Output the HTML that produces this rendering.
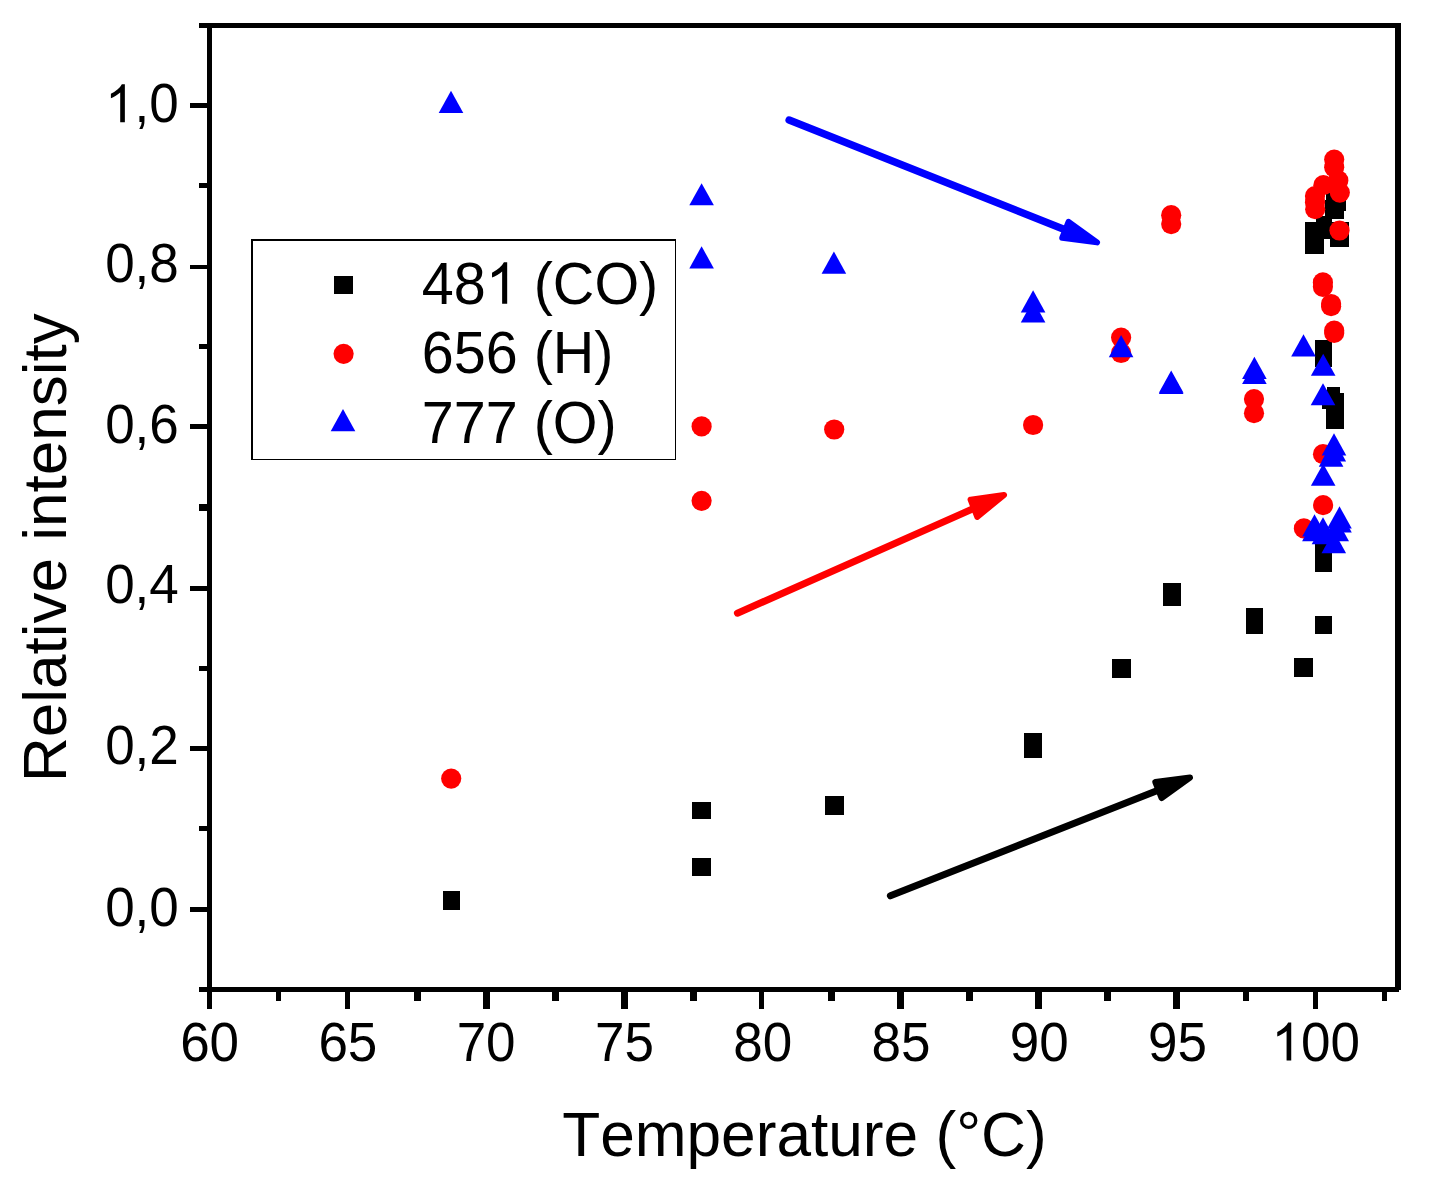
<!DOCTYPE html>
<html><head><meta charset="utf-8"><title>Relative intensity vs Temperature</title>
<style>html,body{margin:0;padding:0;background:#fff;}svg{display:block;}text{font-family:"Liberation Sans",sans-serif;fill:#000;font-kerning:none;font-variant-ligatures:none;}.h{fill:none;}</style>
</head><body>
<svg width="1430" height="1186" viewBox="0 0 1430 1186">
<rect x="0" y="0" width="1430" height="1186" fill="#fff"/>
<g fill="#000" shape-rendering="crispEdges">
<rect x="207" y="23" width="5" height="969"/>
<rect x="207" y="23" width="1194" height="5"/>
<rect x="1395" y="23" width="6" height="967"/>
<rect x="207" y="987" width="1192" height="5"/>
<rect x="199" y="23" width="9" height="5"/>
<rect x="190" y="103" width="18" height="5"/>
<rect x="199" y="183" width="9" height="5"/>
<rect x="190" y="265" width="18" height="4"/>
<rect x="199" y="344" width="9" height="5"/>
<rect x="190" y="424" width="18" height="5"/>
<rect x="199" y="504" width="9" height="7"/>
<rect x="190" y="586" width="18" height="5"/>
<rect x="199" y="666" width="9" height="5"/>
<rect x="190" y="746" width="18" height="5"/>
<rect x="199" y="826" width="9" height="5"/>
<rect x="190" y="907" width="18" height="5"/>
<rect x="199" y="987" width="9" height="5"/>
<rect x="207" y="991" width="5" height="18"/>
<rect x="276" y="991" width="5" height="10"/>
<rect x="345" y="991" width="5" height="18"/>
<rect x="414" y="991" width="7" height="10"/>
<rect x="483" y="991" width="7" height="18"/>
<rect x="552" y="991" width="7" height="10"/>
<rect x="621" y="991" width="7" height="18"/>
<rect x="690" y="991" width="7" height="10"/>
<rect x="759" y="991" width="5" height="18"/>
<rect x="828" y="991" width="7" height="10"/>
<rect x="897" y="991" width="7" height="18"/>
<rect x="966" y="991" width="7" height="10"/>
<rect x="1035" y="991" width="7" height="18"/>
<rect x="1104" y="991" width="7" height="10"/>
<rect x="1173" y="991" width="7" height="18"/>
<rect x="1243" y="991" width="6" height="10"/>
<rect x="1313" y="991" width="5" height="18"/>
<rect x="1382" y="991" width="5" height="10"/>
</g>
<text transform="translate(178.80,925.80) scale(1,1.04)" font-size="53" text-anchor="end" xml:space="preserve">0,0</text>
<text transform="translate(178.80,764.30) scale(1,1.04)" font-size="53" text-anchor="end" xml:space="preserve">0,2</text>
<text transform="translate(178.80,602.90) scale(1,1.04)" font-size="53" text-anchor="end" xml:space="preserve">0,4</text>
<text transform="translate(178.80,443.00) scale(1,1.04)" font-size="53" text-anchor="end" xml:space="preserve">0,6</text>
<text transform="translate(178.80,281.70) scale(1,1.04)" font-size="53" text-anchor="end" xml:space="preserve">0,8</text>
<path transform="translate(105.12,122.30) scale(0.02588,-0.02588)" d="M763 0H583V1147Q518 1085 412.5 1023T223 930V1104Q374 1175 487 1276T647 1472H763Z" fill="#000"/>
<text transform="translate(178.80,122.30) scale(1,1.04)" font-size="53" text-anchor="end" xml:space="preserve"><tspan class="h">1</tspan>,0</text>
<text transform="translate(209.60,1060.60) scale(1,1.04)" font-size="53" text-anchor="middle" xml:space="preserve">60</text>
<text transform="translate(347.86,1060.60) scale(1,1.04)" font-size="53" text-anchor="middle" xml:space="preserve">65</text>
<text transform="translate(486.12,1060.60) scale(1,1.04)" font-size="53" text-anchor="middle" xml:space="preserve">70</text>
<text transform="translate(624.39,1060.60) scale(1,1.04)" font-size="53" text-anchor="middle" xml:space="preserve">75</text>
<text transform="translate(762.65,1060.60) scale(1,1.04)" font-size="53" text-anchor="middle" xml:space="preserve">80</text>
<text transform="translate(900.91,1060.60) scale(1,1.04)" font-size="53" text-anchor="middle" xml:space="preserve">85</text>
<text transform="translate(1039.17,1060.60) scale(1,1.04)" font-size="53" text-anchor="middle" xml:space="preserve">90</text>
<text transform="translate(1177.44,1060.60) scale(1,1.04)" font-size="53" text-anchor="middle" xml:space="preserve">95</text>
<path transform="translate(1271.49,1060.60) scale(0.02588,-0.02588)" d="M763 0H583V1147Q518 1085 412.5 1023T223 930V1104Q374 1175 487 1276T647 1472H763Z" fill="#000"/>
<text transform="translate(1315.70,1060.60) scale(1,1.04)" font-size="53" text-anchor="middle" xml:space="preserve"><tspan class="h">1</tspan>00</text>
<text x="804.4" y="1155.8" font-size="62.2" text-anchor="middle">Temperature (°C)</text>
<text transform="translate(66.4,547.7) rotate(-90)" font-size="62" text-anchor="middle">Relative intensity</text>
<g fill="#000" shape-rendering="crispEdges">
<rect x="443" y="891" width="17" height="19"/>
<rect x="692" y="802" width="19" height="17"/>
<rect x="692" y="858" width="19" height="18"/>
<rect x="825" y="796" width="19" height="19"/>
<rect x="1024" y="733" width="18" height="25"/>
<rect x="1112" y="659" width="19" height="19"/>
<rect x="1163" y="583" width="18" height="23"/>
<rect x="1246" y="608" width="17" height="26"/>
<rect x="1294" y="658" width="19" height="19"/>
<rect x="1315" y="616" width="17" height="18"/>
<rect x="1315" y="544" width="17" height="28"/>
<rect x="1315" y="340" width="17" height="27"/>
<rect x="1327" y="387" width="13" height="13"/>
<rect x="1322" y="390" width="18" height="19"/>
<rect x="1326" y="393" width="18" height="36"/>
<rect x="1305" y="222" width="19" height="32"/>
<rect x="1330" y="222" width="19" height="25"/>
<rect x="1316" y="216" width="16" height="23"/>
<rect x="1326" y="192" width="20" height="19"/>
<rect x="1325" y="200" width="19" height="19"/>
</g>
<g fill="#f00">
<circle cx="451.20" cy="778.60" r="10.1"/>
<circle cx="701.60" cy="426.40" r="10.1"/>
<circle cx="701.60" cy="500.80" r="10.1"/>
<circle cx="834.20" cy="429.50" r="10.1"/>
<circle cx="1033.10" cy="425.00" r="10.1"/>
<circle cx="1121.10" cy="337.60" r="10.1"/>
<circle cx="1121.10" cy="353.00" r="10.1"/>
<circle cx="1171.20" cy="215.20" r="10.1"/>
<circle cx="1171.20" cy="224.10" r="10.1"/>
<circle cx="1254.00" cy="399.10" r="10.1"/>
<circle cx="1254.00" cy="413.20" r="10.1"/>
<circle cx="1334.20" cy="159.60" r="10.1"/>
<circle cx="1334.20" cy="167.30" r="10.1"/>
<circle cx="1338.30" cy="180.40" r="10.1"/>
<circle cx="1339.80" cy="192.60" r="10.1"/>
<circle cx="1323.40" cy="185.20" r="10.1"/>
<circle cx="1315.00" cy="196.10" r="10.1"/>
<circle cx="1315.00" cy="202.50" r="10.1"/>
<circle cx="1315.20" cy="209.20" r="10.1"/>
<circle cx="1339.50" cy="230.50" r="10.1"/>
<circle cx="1322.90" cy="282.40" r="10.1"/>
<circle cx="1322.90" cy="286.80" r="10.1"/>
<circle cx="1331.10" cy="304.00" r="10.1"/>
<circle cx="1331.10" cy="306.20" r="10.1"/>
<circle cx="1334.20" cy="330.70" r="10.1"/>
<circle cx="1334.20" cy="332.90" r="10.1"/>
<circle cx="1323.00" cy="454.20" r="10.1"/>
<circle cx="1323.10" cy="505.10" r="10.1"/>
<circle cx="1303.90" cy="528.40" r="10.1"/>
</g>
<g fill="#00f">
<path d="M438.70 113.05L463.30 113.05L451.00 90.85Z"/>
<path d="M689.30 205.35L713.90 205.35L701.60 183.15Z"/>
<path d="M689.30 268.45L713.90 268.45L701.60 246.25Z"/>
<path d="M821.60 273.65L846.20 273.65L833.90 251.45Z"/>
<path d="M1020.80 312.45L1045.40 312.45L1033.10 290.25Z"/>
<path d="M1020.80 322.55L1045.40 322.55L1033.10 300.35Z"/>
<path d="M1108.80 357.25L1133.40 357.25L1121.10 335.05Z"/>
<path d="M1158.90 392.65L1183.50 392.65L1171.20 370.45Z"/>
<path d="M1158.90 394.05L1183.50 394.05L1171.20 371.85Z"/>
<path d="M1242.10 378.95L1266.70 378.95L1254.40 356.75Z"/>
<path d="M1242.10 384.05L1266.70 384.05L1254.40 361.85Z"/>
<path d="M1291.20 356.55L1315.80 356.55L1303.50 334.35Z"/>
<path d="M1310.90 375.85L1335.50 375.85L1323.20 353.65Z"/>
<path d="M1310.70 405.35L1335.30 405.35L1323.00 383.15Z"/>
<path d="M1321.70 455.45L1346.30 455.45L1334.00 433.25Z"/>
<path d="M1321.50 461.45L1346.10 461.45L1333.80 439.25Z"/>
<path d="M1318.80 466.75L1343.40 466.75L1331.10 444.55Z"/>
<path d="M1310.90 485.85L1335.50 485.85L1323.20 463.65Z"/>
<path d="M1302.20 536.45L1326.80 536.45L1314.50 514.25Z"/>
<path d="M1302.10 541.25L1326.70 541.25L1314.40 519.05Z"/>
<path d="M1310.70 539.35L1335.30 539.35L1323.00 517.15Z"/>
<path d="M1311.70 544.15L1336.30 544.15L1324.00 521.95Z"/>
<path d="M1327.20 528.55L1351.80 528.55L1339.50 506.35Z"/>
<path d="M1327.20 532.45L1351.80 532.45L1339.50 510.25Z"/>
<path d="M1324.40 541.25L1349.00 541.25L1336.70 519.05Z"/>
<path d="M1321.50 553.25L1346.10 553.25L1333.80 531.05Z"/>
</g>
<line x1="789.10" y1="120.00" x2="1068.19" y2="230.95" stroke="#00f" stroke-width="7.4" stroke-linecap="round"/><path d="M1097.00 242.40L1062.23 237.83L1068.58 221.85Z" fill="#00f" stroke="#00f" stroke-width="6.0" stroke-linejoin="round"/>
<line x1="737.40" y1="613.20" x2="975.76" y2="507.56" stroke="#f00" stroke-width="7.0" stroke-linecap="round"/><path d="M1004.10 495.00L977.20 516.80L970.60 499.60Z" fill="#f00" stroke="#f00" stroke-width="6.0" stroke-linejoin="round"/>
<line x1="890.40" y1="895.80" x2="1161.26" y2="788.97" stroke="#000" stroke-width="7.0" stroke-linecap="round"/><path d="M1190.10 777.60L1161.63 798.07L1155.32 782.07Z" fill="#000" stroke="#000" stroke-width="6.0" stroke-linejoin="round"/>
<g shape-rendering="crispEdges"><rect x="251" y="239" width="425" height="221" fill="#000"/><rect x="253" y="241" width="422" height="218" fill="#fff"/></g>
<g fill="#000" shape-rendering="crispEdges"><rect x="334" y="276" width="19" height="18"/></g>
<g fill="#f00"><circle cx="343.60" cy="353.80" r="10.1"/></g>
<g fill="#00f"><path d="M330.70 431.25L355.30 431.25L343.00 409.05Z"/></g>
<path transform="translate(485.76,303.70) scale(0.02808,-0.02808)" d="M763 0H583V1147Q518 1085 412.5 1023T223 930V1104Q374 1175 487 1276T647 1472H763Z" fill="#000"/>
<text transform="translate(421.80,303.70) scale(1,1.04)" font-size="57.5" text-anchor="start" xml:space="preserve">48<tspan class="h">1</tspan> (CO)</text>
<text transform="translate(421.80,373.20) scale(1,1.04)" font-size="57.5" text-anchor="start" xml:space="preserve">656 (H)</text>
<text transform="translate(421.80,442.70) scale(1,1.04)" font-size="57.5" text-anchor="start" xml:space="preserve">777 (O)</text>
</svg>
</body></html>
